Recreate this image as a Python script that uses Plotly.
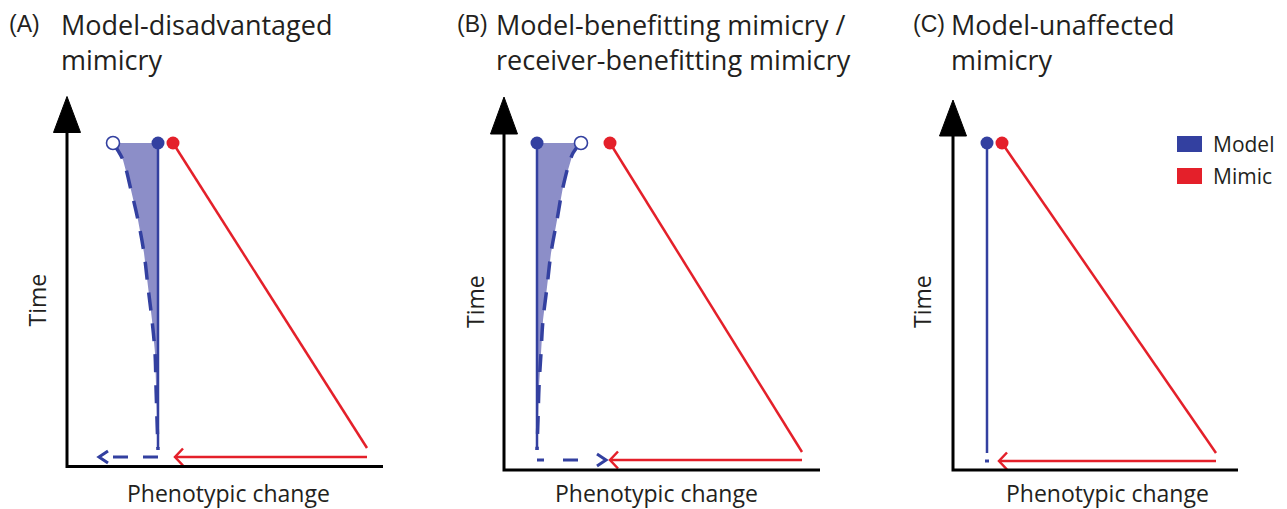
import plotly.graph_objects as go

W, H = 1287, 509
BLUE = "#3340a0"
RED = "#e4202a"
FILL = "#8c8ec8"
INK = "#231f20"

# ---------------- data (local units: phenotype along x, time upward) ----------------
panel_titles = ["Model-disadvantaged<br>mimicry",
                "Model-benefitting mimicry /<br>receiver-benefitting mimicry",
                "Model-unaffected<br>mimicry"]
panel_tags = ["(A)", "(B)", "(C)"]
x_axis_len = [316, 316, 285]
y_axis_top = [335, 337, 335]
y_arrow_tip = [370, 373, 370]
model_x = [91, 33, 34]
mimic_start_x = [106, 106, 49]
mimic_end_x = [300, 298, 263]
start_t = [323.5, 327, 327]
model_end_t = [18.5, 20, 17]
mimic_end_t = [18.5, 18, 17]
arrow_t = [9.5, 10, 9]
red_arrow_tip = [108, 106, 46]
blue_arrow_from = [91, 33, 32]
blue_arrow_to = [34, 100, 36]
blue_arrow_tip = [32, 102, None]
open_circle_x = [46, 77, None]

curve_t_A = [323.5, 306.5, 276.5, 246.5, 213.5, 179.5, 146.5, 113.5, 79.5, 46.5, 16.5]
curve_x_A = [46, 56, 64, 71, 77, 81, 85, 88, 89, 90, 91]
curve_t_B = [327, 317, 283, 250, 217, 183, 150, 117, 83, 50, 20]
curve_x_B = [77, 69, 59, 53, 47, 43, 39, 37, 35, 34, 33]
curves = [(curve_x_A, curve_t_A), (curve_x_B, curve_t_B), None]

# ---------------- layout geometry (pixel placement of each panel) ----------------
origin_px = [(67, 466.5), (504, 470), (953, 470)]
PADL, PADR, PADB, PADT = 45, 20, 15, 8

fig = go.Figure()
layout_axes = {}


def chevron(tip, t, direction, depth, half):
    return ([tip + direction * depth, tip, tip + direction * depth], [t + half, t, t - half])


for i in range(3):
    ox, oy = origin_px[i]
    L = x_axis_len[i]
    tip = y_arrow_tip[i]
    xr = [-PADL, L + PADR]
    yr = [-PADB, tip + PADT]
    xdom = [(ox - PADL) / W, (ox + L + PADR) / W]
    ydom = [1 - (oy + PADB) / H, 1 - (oy - tip - PADT) / H]
    suf = "" if i == 0 else str(i + 1)
    layout_axes["xaxis" + suf] = dict(domain=xdom, range=xr, visible=False, fixedrange=True)
    layout_axes["yaxis" + suf] = dict(domain=ydom, range=yr, visible=False, fixedrange=True,
                                      anchor="x" + suf)
    xa, ya = "x" + suf, "y" + suf

    def add(**kw):
        fig.add_trace(go.Scatter(xaxis=xa, yaxis=ya, showlegend=False, hoverinfo="skip",
                                 cliponaxis=False, **kw))

    mx = model_x[i]
    # shaded region between model and its shifted trajectory
    if curves[i] is not None:
        cx, ct = curves[i]
        add(x=list(cx) + [mx, mx], y=list(ct) + [ct[-1], ct[0]], mode="lines",
            fill="toself", fillcolor=FILL, line=dict(width=0))
    # model line
    add(x=[mx, mx], y=[start_t[i], model_end_t[i]], mode="lines",
        line=dict(color=BLUE, width=2.5))
    # dashed shifted model trajectory
    if curves[i] is not None:
        cx, ct = curves[i]
        add(x=cx, y=ct, mode="lines", line=dict(color=BLUE, width=3.5, dash="18px,13px",
                                                 shape="spline"))
    # mimic line
    add(x=[mimic_start_x[i], mimic_end_x[i]], y=[start_t[i], mimic_end_t[i]], mode="lines",
        line=dict(color=RED, width=2.5))
    # red arrow
    at = arrow_t[i]
    add(x=[mimic_end_x[i], red_arrow_tip[i] + 1], y=[at, at], mode="lines",
        line=dict(color=RED, width=2.5))
    chx, chy = chevron(red_arrow_tip[i], at, 1, 8, 8.5)
    add(x=chx, y=chy, mode="lines", line=dict(color=RED, width=2.5))
    # blue dashed arrow
    if i == 0:
        dash = "15px,15px"
    elif i == 1:
        dash = "7px,19px,15px,200px"
    else:
        dash = "solid"
    add(x=[blue_arrow_from[i], blue_arrow_to[i]], y=[at, at], mode="lines",
        line=dict(color=BLUE, width=3, dash=dash))
    if blue_arrow_tip[i] is not None:
        d = 1 if blue_arrow_tip[i] < blue_arrow_from[i] else -1
        chx, chy = chevron(blue_arrow_tip[i], at, d, 9, 6)
        add(x=chx, y=chy, mode="lines", line=dict(color=BLUE, width=3))
    # dots
    add(x=[mx], y=[start_t[i]], mode="markers",
        marker=dict(color=BLUE, size=13, line=dict(width=0)))
    add(x=[mimic_start_x[i]], y=[start_t[i]], mode="markers",
        marker=dict(color=RED, size=13, line=dict(width=0)))
    if open_circle_x[i] is not None:
        add(x=[open_circle_x[i]], y=[start_t[i]], mode="markers",
            marker=dict(color="white", size=13, line=dict(color=BLUE, width=1.6)))
    # axes
    add(x=[L, 0, 0], y=[0, 0, y_axis_top[i]], mode="lines",
        line=dict(color="black", width=3))
    add(x=[-13.5, 0, 13.5, -13.5], y=[y_axis_top[i] - 1, tip, y_axis_top[i] - 1, y_axis_top[i] - 1],
        mode="lines", fill="toself", fillcolor="black", line=dict(color="black", width=1))


def px(x, y):
    return x / W, 1 - y / H


ann = []
tag_x = [7, 455, 911]
title_x = [59, 494, 949]
time_x = [36.5, 475, 922]
time_y = [300, 302, 302]
phen_x = [228, 656, 1107]
for i in range(3):
    x, y = px(tag_x[i], 24)
    ann.append(dict(x=x, y=y, xref="paper", yref="paper", xanchor="left", yanchor="middle",
                    text=panel_tags[i], showarrow=False,
                    font=dict(family="Liberation Sans", size=23, color=INK)))
    x, y = px(title_x[i], 4)
    ann.append(dict(x=x, y=y, xref="paper", yref="paper", xanchor="left", yanchor="top",
                    text=panel_titles[i], showarrow=False, align="left",
                    font=dict(family="Open Sans", size=27, color=INK)))
    x, y = px(time_x[i], time_y[i])
    ann.append(dict(x=x, y=y, xref="paper", yref="paper", xanchor="center", yanchor="middle",
                    text="Time", showarrow=False, textangle=-90,
                    font=dict(family="Open Sans", size=23, color=INK)))
    x, y = px(phen_x[i], 493)
    ann.append(dict(x=x, y=y, xref="paper", yref="paper", xanchor="center", yanchor="middle",
                    text="Phenotypic change", showarrow=False,
                    font=dict(family="Open Sans", size=23, color=INK)))

# legend
legend_labels = ["Model", "Mimic"]
legend_colors = [BLUE, RED]
legend_y = [144, 176]
shapes = []
for lab, col, ly in zip(legend_labels, legend_colors, legend_y):
    x0, y0 = px(1177, ly + 8)
    x1, y1 = px(1202, ly - 8)
    shapes.append(dict(type="rect", xref="paper", yref="paper", x0=x0, x1=x1, y0=y0, y1=y1,
                       fillcolor=col, line=dict(width=0)))
    x, y = px(1211, ly)
    ann.append(dict(x=x, y=y, xref="paper", yref="paper", xanchor="left", yanchor="middle",
                    text=lab, showarrow=False,
                    font=dict(family="Open Sans", size=21, color=INK)))

fig.update_layout(width=W, height=H, autosize=False, margin=dict(l=0, r=0, t=0, b=0),
                  paper_bgcolor="white", plot_bgcolor="white", annotations=ann, shapes=shapes,
                  **layout_axes)
fig.write_html("out.html", post_script="document.body.style.margin='0';",
               config={"displayModeBar": False})
